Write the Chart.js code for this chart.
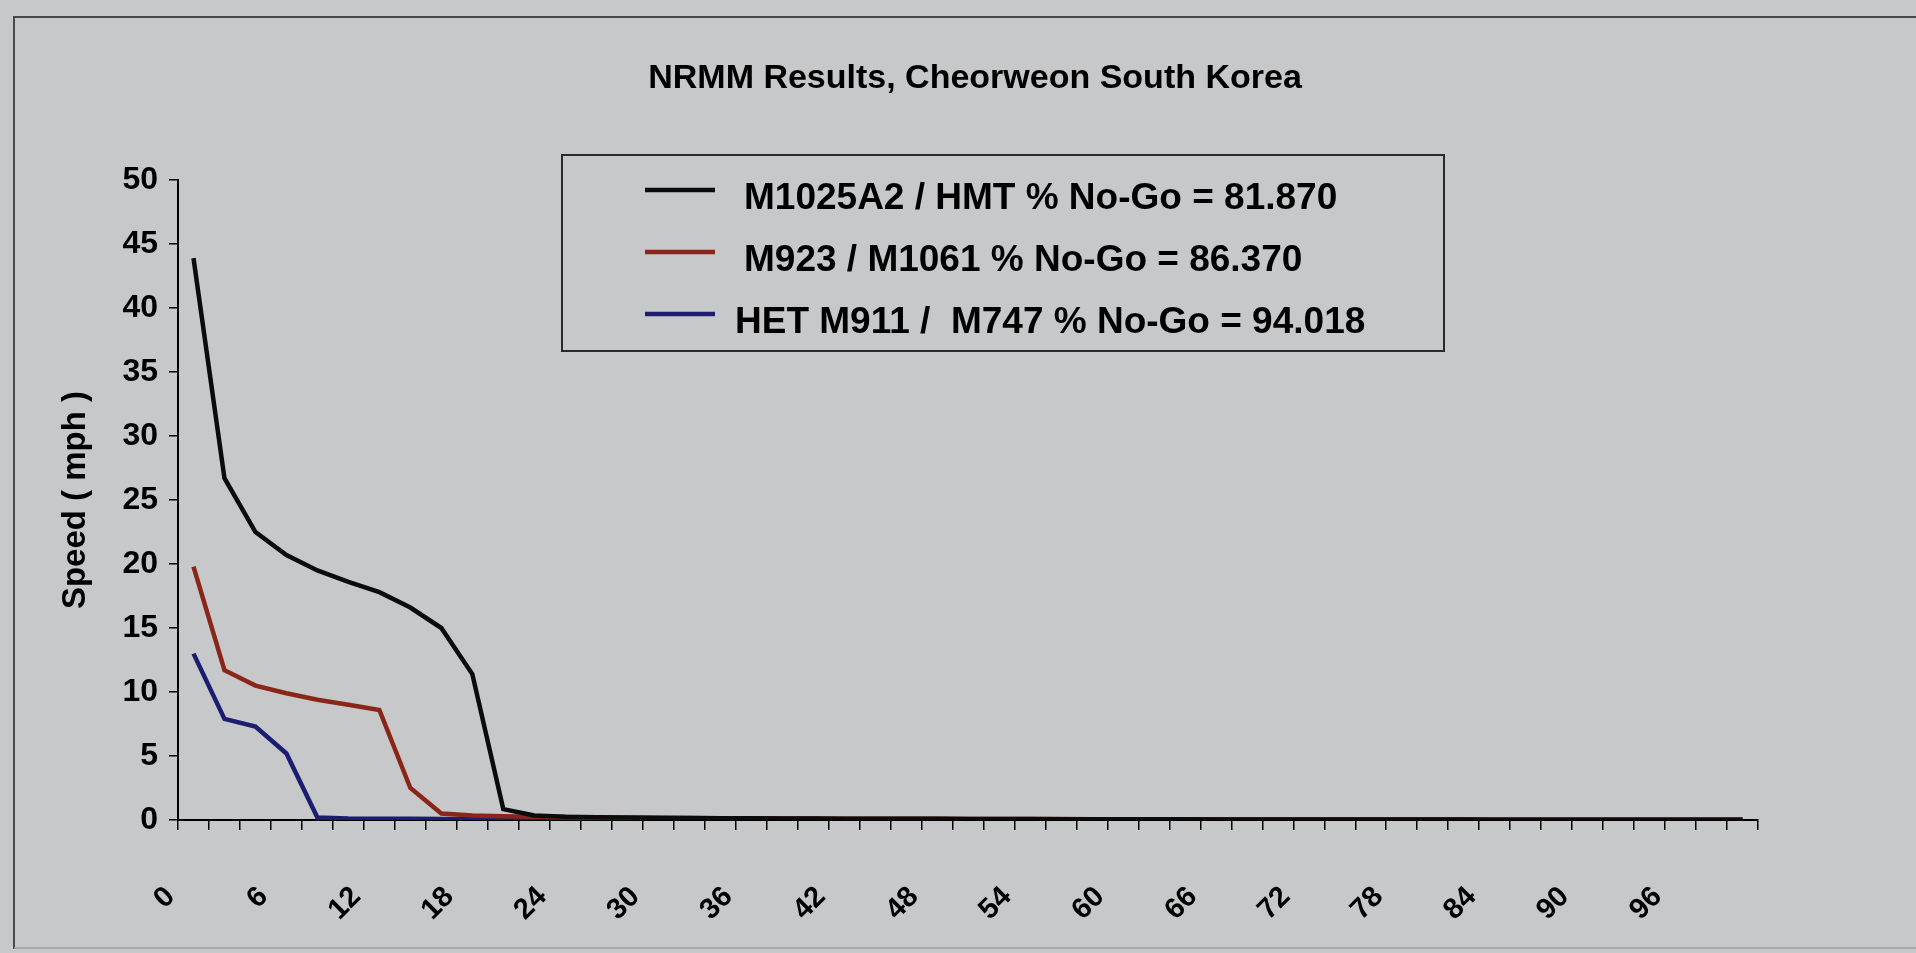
<!DOCTYPE html>
<html>
<head>
<meta charset="utf-8">
<script src="https://cdn.jsdelivr.net/npm/chart.js@4.4.1/dist/chart.umd.min.js"></script>
<style>
html,body{margin:0;padding:0;background:#c7c8ca;overflow:hidden}
#wrap{position:absolute;left:0;top:0;width:1916px;height:953px}
</style>
</head>
<body>
<div id="wrap"><canvas id="c" width="1916" height="953"></canvas></div>
<script>
// ---- data ----
const chartTitle = 'NRMM Results, Cheorweon South Korea';
const yAxisTitle = 'Speed ( mph )';
const categories = [0,2,4,6,8,10,12,14,16,18,20,22,24,26,28,30,32,34,36,38,40,42,44,46,48,50,52,54,56,58,60,62,64,66,68,70,72,74,76,78,80,82,84,86,88,90,92,94,96,98,100];
const xTickLabels = ['0','6','12','18','24','30','36','42','48','54','60','66','72','78','84','90','96'];
const yTicks = [0,5,10,15,20,25,30,35,40,45,50];
const seriesNames = [
  'M1025A2 / HMT % No-Go = 81.870',
  'M923 / M1061 % No-Go = 86.370',
  'HET M911 /  M747 % No-Go = 94.018'
];
const m1025a2 = [43.9,26.7,22.5,20.7,19.5,18.6,17.8,16.6,15.0,11.4,
                 0.85,0.35,0.25,0.22,0.2,0.18,0.15,0.14,0.13,0.12,
                 0.11,0.1,0.1,0.09,0.09,0.08,0.08,0.07,0.06,0.06,
                 0.05,0.05,0.05,0.04,0.04,0.04,0.04,0.03,0.03,0.03,
                 0.03,0.03,0.02,0.02,0.02,0.02,0.02,0.02,0.02,0.02,0.02];
const m923 =    [19.8,11.7,10.5,9.9,9.4,9.0,8.6,2.5,0.5,0.35,
                 0.3,0.26,0.23,0.2,0.18,0.16,0.15,0.14,0.13,0.12,
                 0.11,0.1,0.1,0.09,0.09,0.08,0.08,0.07,0.07,0.06,
                 0.06,0.05,0.05,0.05,0.04,0.04,0.04,0.03,0.03,0.03,
                 0.03,0.03,0.02,0.02,0.02,0.02,0.02,0.02,0.02,0.02,0.02];
const hetM911 = [13.0,7.9,7.3,5.2,0.2,0.12,0.1,0.09,0.08,0.07,
                 0.06,0.06,0.05,0.05,0.05,0.04,0.04,0.04,0.04,0.03,
                 0.03,0.03,0.03,0.03,0.02,0.02,0.02,0.02,0.02,0.02,
                 0.02,0.02,0.02,0.02,0.02,0.01,0.01,0.01,0.01,0.01,
                 0.01,0.01,0.01,0.01,0.01,0.01,0.01,0.01,0.01,0.01,0.01];
const seriesColors = ['#0b0b0b','#8a2618','#1c1c70'];

// ---- style ----
const FONT = '"Liberation Sans", Arial, Helvetica, sans-serif';
Chart.defaults.font.family = FONT;

const decor = {
  id: 'decor',
  beforeDraw(chart) {
    const ctx = chart.ctx;
    ctx.save();
    ctx.fillStyle = '#c7c8ca';
    ctx.fillRect(0, 0, chart.width, chart.height);
    ctx.strokeStyle = '#4a4a4a';
    ctx.lineWidth = 2;
    ctx.beginPath();
    ctx.moveTo(chart.width, 17);
    ctx.lineTo(14, 17);
    ctx.lineTo(14, 949);
    ctx.stroke();
    ctx.strokeStyle = '#9c9da0';
    ctx.lineWidth = 1.5;
    ctx.beginPath();
    ctx.moveTo(14, 948);
    ctx.lineTo(chart.width, 948);
    ctx.stroke();
    ctx.restore();
  },
  afterDraw(chart, args, opts) {
    const ctx = chart.ctx;
    ctx.save();
    // title
    ctx.fillStyle = '#000';
    ctx.font = 'bold 34px ' + FONT;
    ctx.textAlign = 'center';
    ctx.textBaseline = 'alphabetic';
    ctx.fillText(chartTitle, 975, 88);
    // legend box
    const b = opts.box;
    ctx.strokeStyle = '#2a2a2a';
    ctx.lineWidth = 2;
    ctx.strokeRect(b.x, b.y, b.w, b.h);
    ctx.font = 'bold 37px ' + FONT;
    ctx.textAlign = 'left';
    chart.data.datasets.forEach((ds, i) => {
      const ly = opts.lineY[i];
      ctx.strokeStyle = ds.borderColor;
      ctx.lineWidth = 4.5;
      ctx.beginPath();
      ctx.moveTo(opts.lineX0, ly);
      ctx.lineTo(opts.lineX1, ly);
      ctx.stroke();
      ctx.fillStyle = '#000';
      ctx.fillText(ds.label, opts.textX[i], opts.baseY[i]);
    });
    ctx.restore();
  }
};

new Chart(document.getElementById('c'), {
  type: 'line',
  data: {
    labels: categories.map(String),
    datasets: [
      {label: seriesNames[0], data: m1025a2, borderColor: seriesColors[0], borderWidth: 4.5, pointRadius: 0, tension: 0, fill: false},
      {label: seriesNames[1], data: m923, borderColor: seriesColors[1], borderWidth: 4.5, pointRadius: 0, tension: 0, fill: false},
      {label: seriesNames[2], data: hetM911, borderColor: seriesColors[2], borderWidth: 4.5, pointRadius: 0, tension: 0, fill: false}
    ]
  },
  options: {
    responsive: false,
    animation: false,
    devicePixelRatio: 1,
    layout: {padding: {left: 0, top: 180, right: 158, bottom: 0}, autoPadding: false},
    plugins: {
      legend: {display: false},
      title: {display: false},
      tooltip: {enabled: false},
      decor: {
        box: {x: 562, y: 155, w: 882, h: 196},
        lineX0: 645, lineX1: 715,
        lineY: [190, 252, 314],
        textX: [744, 744, 735],
        baseY: [209, 271, 333]
      }
    },
    scales: {
      x: {
        type: 'category',
        offset: true,
        grid: {display: true, offset: true, drawOnChartArea: false, drawTicks: true, tickLength: 10, color: '#000', lineWidth: 1.5},
        border: {display: true, color: '#000', width: 2},
        ticks: {
          autoSkip: false, minRotation: 45, maxRotation: 45, padding: 50, labelOffset: -23,
          color: '#000', font: {size: 29, weight: 'bold'},
          callback: function(v, i) {
            const l = String(categories[i]);
            return xTickLabels.includes(l) ? l : '';
          }
        },
        afterFit(s) { s.height = 133; }
      },
      y: {
        min: yTicks[0], max: yTicks[yTicks.length - 1],
        afterBuildTicks(s) { s.ticks = yTicks.map(v => ({value: v})); },
        grid: {drawOnChartArea: false, drawTicks: true, tickLength: 9, color: '#000', lineWidth: 1.5},
        border: {display: true, color: '#000', width: 2},
        ticks: {padding: 11, color: '#000', font: {size: 32, weight: 'bold'}},
        title: {display: true, text: yAxisTitle, color: '#000', font: {size: 33, weight: 'bold'}, padding: {top: 56, bottom: 0}},
        afterFit(s) { s.width = 178; }
      }
    }
  },
  plugins: [decor]
});
</script>
</body>
</html>
